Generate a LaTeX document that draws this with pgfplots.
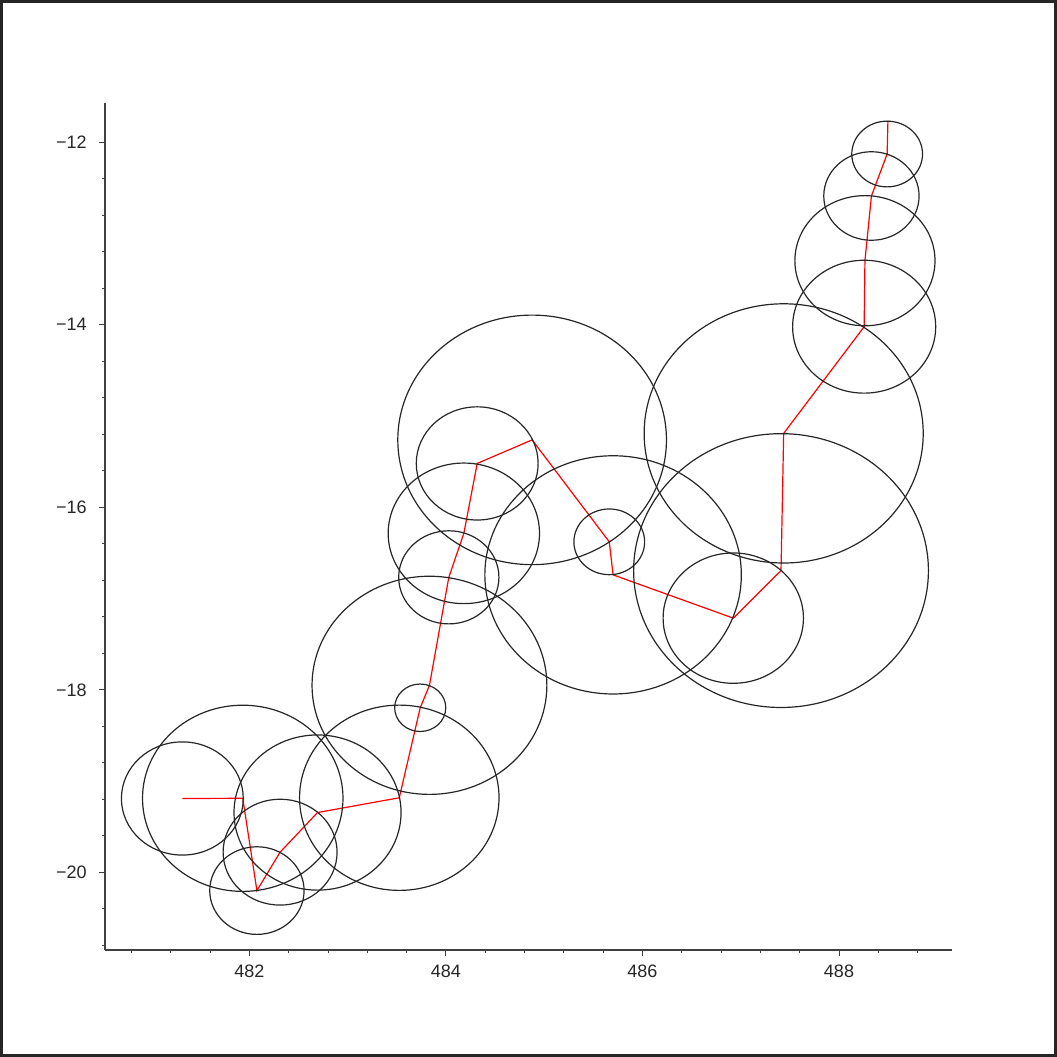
\documentclass[border=0pt]{standalone}
\usepackage{fontspec}
\setmainfont{Liberation Sans}
\usepackage{pgfplots}
\usepackage{pgfplotstable}
\pgfplotsset{compat=1.18}

% circle centres (x, y) and radii r, in data units
\pgfplotstableread{
x y r
481.317 -19.190 0.620
481.932 -19.188 1.020
482.076 -20.199 0.480
482.312 -19.778 0.580
482.693 -19.344 0.850
483.525 -19.182 1.015
483.738 -18.196 0.260
483.832 -17.950 1.195
484.029 -16.767 0.510
484.182 -16.285 0.770
484.318 -15.519 0.620
484.877 -15.261 1.367
485.662 -16.378 0.360
485.701 -16.740 1.305
486.924 -17.214 0.714
487.410 -16.693 1.500
487.437 -15.190 1.420
488.256 -14.021 0.728
488.264 -13.298 0.713
488.330 -12.589 0.485
488.490 -12.129 0.360
}\circles

% red track through the centres
\pgfplotstableread{
x y
481.317 -19.190
481.932 -19.188
482.076 -20.199
482.312 -19.778
482.693 -19.344
483.525 -19.182
483.738 -18.196
483.832 -17.950
484.029 -16.767
484.182 -16.285
484.318 -15.519
484.877 -15.261
485.662 -16.378
485.701 -16.740
486.924 -17.214
487.410 -16.693
487.437 -15.190
488.256 -14.021
488.264 -13.298
488.330 -12.589
488.490 -12.129
488.498 -11.764
}\track

\pgfdeclareplotmark{datacircle}{%
  \pgfpathellipse{\pgfpointorigin}%
    {\pgfplotspointaxisdirectionxy{\crad}{0}}%
    {\pgfplotspointaxisdirectionxy{0}{\crad}}%
  \pgfusepathqstroke}

\begin{document}
\begin{tikzpicture}
\path[use as bounding box] (0,0) rectangle (528.5pt,528.5pt);
\draw[line width=1.6pt, color=black!85] (0.8pt,0.8pt) rectangle (527.7pt,527.7pt);
\begin{axis}[
  at={(52.5pt,53.5pt)}, anchor=south west,
  scale only axis, width=423.5pt, height=423.5pt,
  xmin=480.53, xmax=489.15, ymin=-20.85, ymax=-11.57,
  axis x line=bottom, axis y line=left,
  axis line style={-, line width=0.9pt, color=black!75},
  tick align=outside,
  major tick length=3pt, minor tick length=1.4pt,
  tick style={color=black!75, line width=0.5pt},
  xtick={482,484,486,488}, xticklabels={482,484,486,488},
  ytick={-20,-18,-16,-14,-12}, yticklabels={−20,−18,−16,−14,−12},
  minor xtick={480.8,481.2,481.6,482.4,482.8,483.2,483.6,484.4,484.8,485.2,485.6,486.4,486.8,487.2,487.6,488.4,488.8},
  minor ytick={-20.8,-20.4,-19.6,-19.2,-18.8,-18.4,-17.6,-17.2,-16.8,-16.4,-15.6,-15.2,-14.8,-14.4,-13.6,-13.2,-12.8,-12.4},
  tick label style={font=\fontsize{9}{10}\selectfont, color=black!85},
  xticklabel style={anchor=north, inner sep=0pt, yshift=-4.5pt},
  yticklabel style={anchor=east, inner sep=0pt, xshift=-6pt},
  clip=false,
]
\addplot[
  black!85, line width=0.6pt,
  scatter, only marks, mark=datacircle,
  visualization depends on={\thisrow{r}\as\crad},
  scatter/@pre marker code/.code={},
  scatter/@post marker code/.code={},
] table[x=x, y=y] {\circles};
\addplot[red, line width=0.6pt, no marks] table[x=x, y=y] {\track};
\end{axis}
\end{tikzpicture}
\end{document}
